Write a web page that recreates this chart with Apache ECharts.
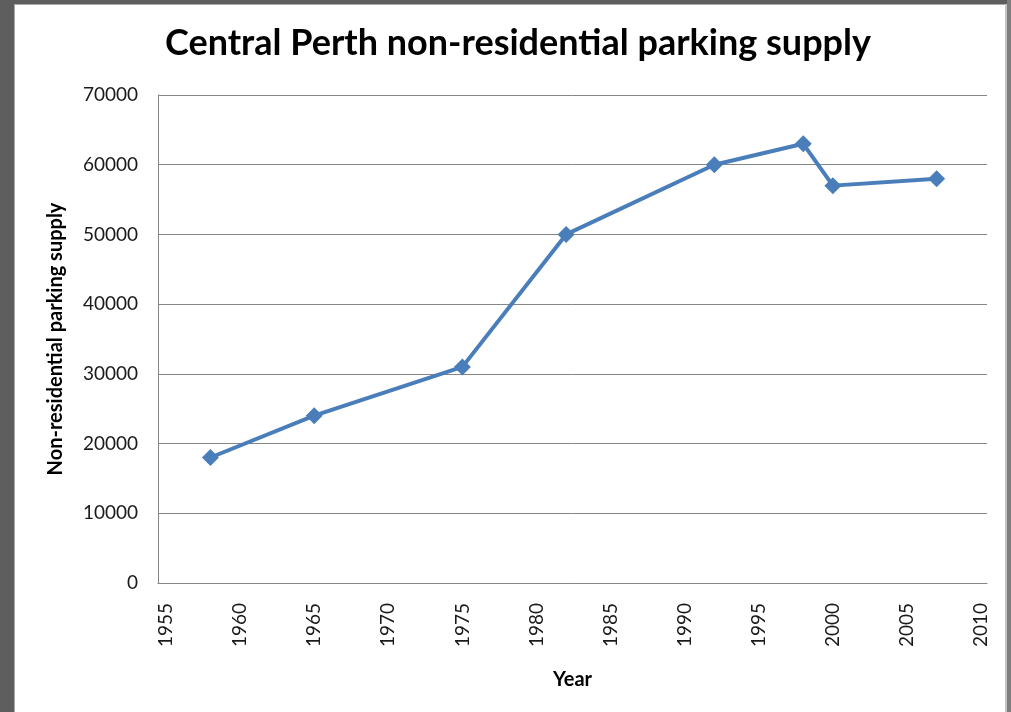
<!DOCTYPE html>
<html>
<head>
<meta charset="utf-8">
<script src="https://cdn.jsdelivr.net/npm/echarts@6/dist/echarts.min.js"></script>
<style>
html,body{margin:0;padding:0;background:#fff;}
#wrap{position:relative;width:1011px;height:712px;overflow:hidden;}
#chart{position:absolute;left:0;top:0;width:1011px;height:712px;}
.b{position:absolute;}
</style>
</head>
<body>
<div id="wrap">
<div id="chart"></div>
<div class="b" style="left:0;top:0;width:1011px;height:4px;background:#5e5e5e"></div>
<div class="b" style="left:14px;top:4px;width:992px;height:1px;background:#a8a8a8"></div>
<div class="b" style="left:0;top:0;width:14px;height:712px;background:#5e5e5e"></div>
<div class="b" style="left:14px;top:4px;width:1px;height:708px;background:#a8a8a8"></div>
<div class="b" style="left:1007px;top:0;width:4px;height:712px;background:#7e7e7e"></div>
<div class="b" style="left:1005px;top:4px;width:2px;height:708px;background:#c4c4c4"></div>
</div>
<script>
const titleText = "Central Perth non-residential parking supply";
const yAxisName = "Non-residential parking supply";
const xAxisName = "Year";
const years = [1958, 1965, 1975, 1982, 1992, 1998, 2000, 2007];
const supply = [18000, 24000, 31000, 50000, 60000, 63000, 57000, 58000];
const xTickLabels = [1955, 1960, 1965, 1970, 1975, 1980, 1985, 1990, 1995, 2000, 2005, 2010];

const font = "Lato";
const chart = echarts.init(document.getElementById('chart'), null, {renderer: 'canvas'});
chart.setOption({
  animation: false,
  backgroundColor: '#ffffff',
  title: {
    text: titleText,
    left: 513, top: 20, textAlign: 'center',
    textStyle: {fontFamily: font, fontWeight: 'bold', fontSize: 36, color: '#000'}
  },
  grid: {left: 158, right: 24, top: 95, bottom: 129, containLabel: false},
  xAxis: {
    type: 'value',
    min: 1954.46, max: 2010.40,
    name: xAxisName, nameLocation: 'middle', nameGap: 87,
    nameTextStyle: {fontFamily: font, fontWeight: 'bold', fontSize: 20, color: '#000'},
    axisLine: {show: true, lineStyle: {color: '#868686', width: 1}},
    axisTick: {show: false},
    splitLine: {show: false},
    axisLabel: {
      customValues: xTickLabels,
      rotate: 90, margin: 20,
      fontFamily: font, fontSize: 19, color: '#1a1a1a',
      formatter: v => String(Math.round(v))
    }
  },
  yAxis: {
    type: 'value',
    min: 0, max: 70000, interval: 10000,
    name: yAxisName, nameLocation: 'middle', nameGap: 92,
    nameTextStyle: {fontFamily: font, fontWeight: 'bold', fontSize: 20, color: '#000'},
    axisLine: {show: true, lineStyle: {color: '#868686', width: 1}},
    axisTick: {show: false},
    splitLine: {show: true, lineStyle: {color: '#868686', width: 1}},
    axisLabel: {margin: 20, fontFamily: font, fontSize: 19, color: '#1a1a1a',
      formatter: v => String(v)}
  },
  series: [{
    type: 'line',
    data: years.map((y, i) => [y, supply[i]]),
    symbol: 'diamond', symbolSize: 17,
    showAllSymbol: true,
    lineStyle: {color: '#4a7ebb', width: 4},
    itemStyle: {color: '#4a7ebb'},
    z: 3
  }]
});
</script>
</body>
</html>
